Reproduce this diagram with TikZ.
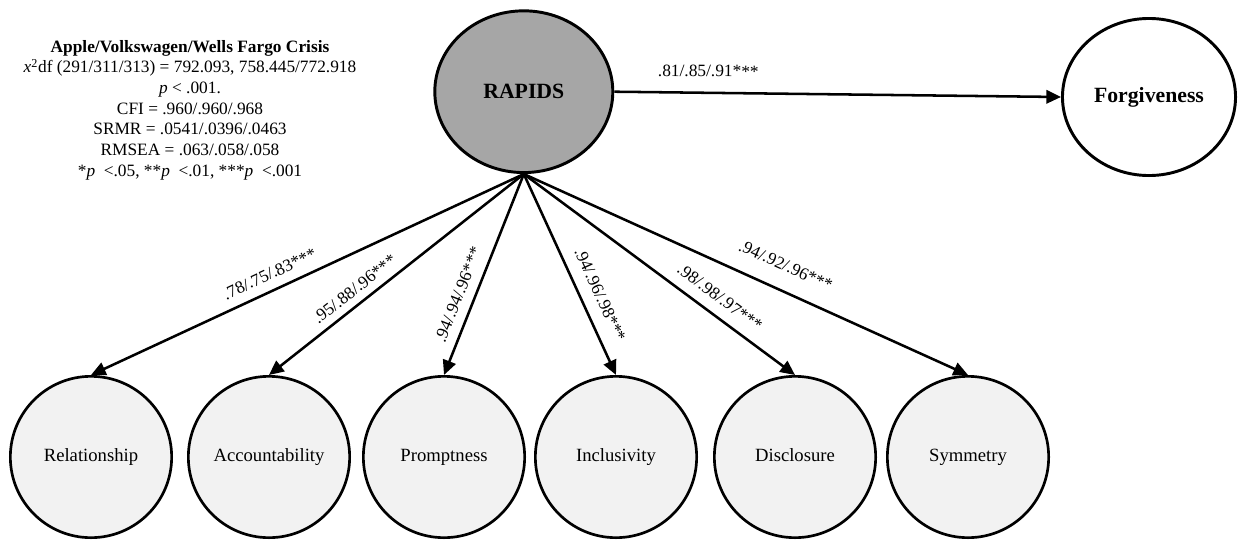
\documentclass[tikz,border=0pt]{standalone}
\usepackage{fontspec}
\setmainfont{Liberation Serif}
\usetikzlibrary{shapes.geometric,arrows.meta}
\definecolor{rapidsgray}{HTML}{A6A6A6}
\definecolor{boxgray}{HTML}{F2F2F2}
\begin{document}
\begin{tikzpicture}[x=0.75pt,y=-0.75pt,
  latent/.style={ellipse,draw=black,line width=2.2pt,inner sep=0pt,font=\fontsize{16.3}{18}\selectfont\bfseries},
  indicator/.style={ellipse,draw=black,line width=2pt,fill=boxgray,inner sep=0pt,minimum width=121pt,minimum height=121pt,text height=9.5pt,text depth=3pt,font=\fontsize{14}{16}\selectfont},
  loading/.style={line width=1.9pt,-{Triangle[length=11pt,width=10pt]}},
  coef/.style={font=\fontsize{13}{15}\selectfont,sloped,inner sep=1pt}
]
\useasboundingbox (0,0) rectangle (1238,543);

% legend
\node[anchor=north,align=center,inner sep=0pt,font={\fontsize{13}{15.5}\selectfont}] (legend) at (190,40)
{\textbf{Apple/Volkswagen/Wells Fargo Crisis}\\
{\itshape x}\textsuperscript{2}df (291/311/313) = 792.093, 758.445/772.918\\
{\itshape p} < .001.\\
CFI = .960/.960/.968\\
SRMR = .0541/.0396/.0463\\
RMSEA = .063/.058/.058\\
*{\itshape p} \ <.05, **{\itshape p} \ <.01, ***{\itshape p} \ <.001};

% latent variables
\node[latent,fill=rapidsgray,minimum width=133.5pt,minimum height=121.3pt] (rapids) at (523.8,91.7) {RAPIDS};
\node[latent,fill=white,minimum width=129.8pt,minimum height=117.8pt] (forg) at (1149,97) {Forgiveness};

% indicators
\node[indicator] (rel) at (91,457) {Relationship};
\node[indicator] (acc) at (269,457) {Accountability};
\node[indicator] (prom) at (444,457) {Promptness};
\node[indicator] (incl) at (616,457) {Inclusivity};
\node[indicator] (disc) at (795,457) {Disclosure};
\node[indicator] (sym) at (968,457) {Symmetry};

% paths
\draw[loading] (rapids.east) -- node[coef,pos=0.21,above=10pt] (lf) {.81/.85/.91***} (forg.west);
\draw[loading] (rapids.south) -- node[coef,pos=0.571,above=6pt] (l1) {.78/.75/.83***} (rel.north);
\draw[loading] (rapids.south) -- node[coef,pos=0.629,above=4.5pt] (l2) {.95/.88/.96***} (acc.north);
\draw[loading] (rapids.south) -- node[coef,pos=0.63,above=6pt] (l3) {.94/.94/.96***} (prom.north);
\draw[loading] (rapids.south) -- node[coef,pos=0.64,above=8pt] (l4) {.94/.96/.98***} (incl.north);
\draw[loading] (rapids.south) -- node[coef,pos=0.684,above=7pt] (l5) {.98/.98/.97***} (disc.north);
\draw[loading] (rapids.south) -- node[coef,pos=0.567,above=12pt] (l6) {.94/.92/.96***} (sym.north);
\end{tikzpicture}
\end{document}
